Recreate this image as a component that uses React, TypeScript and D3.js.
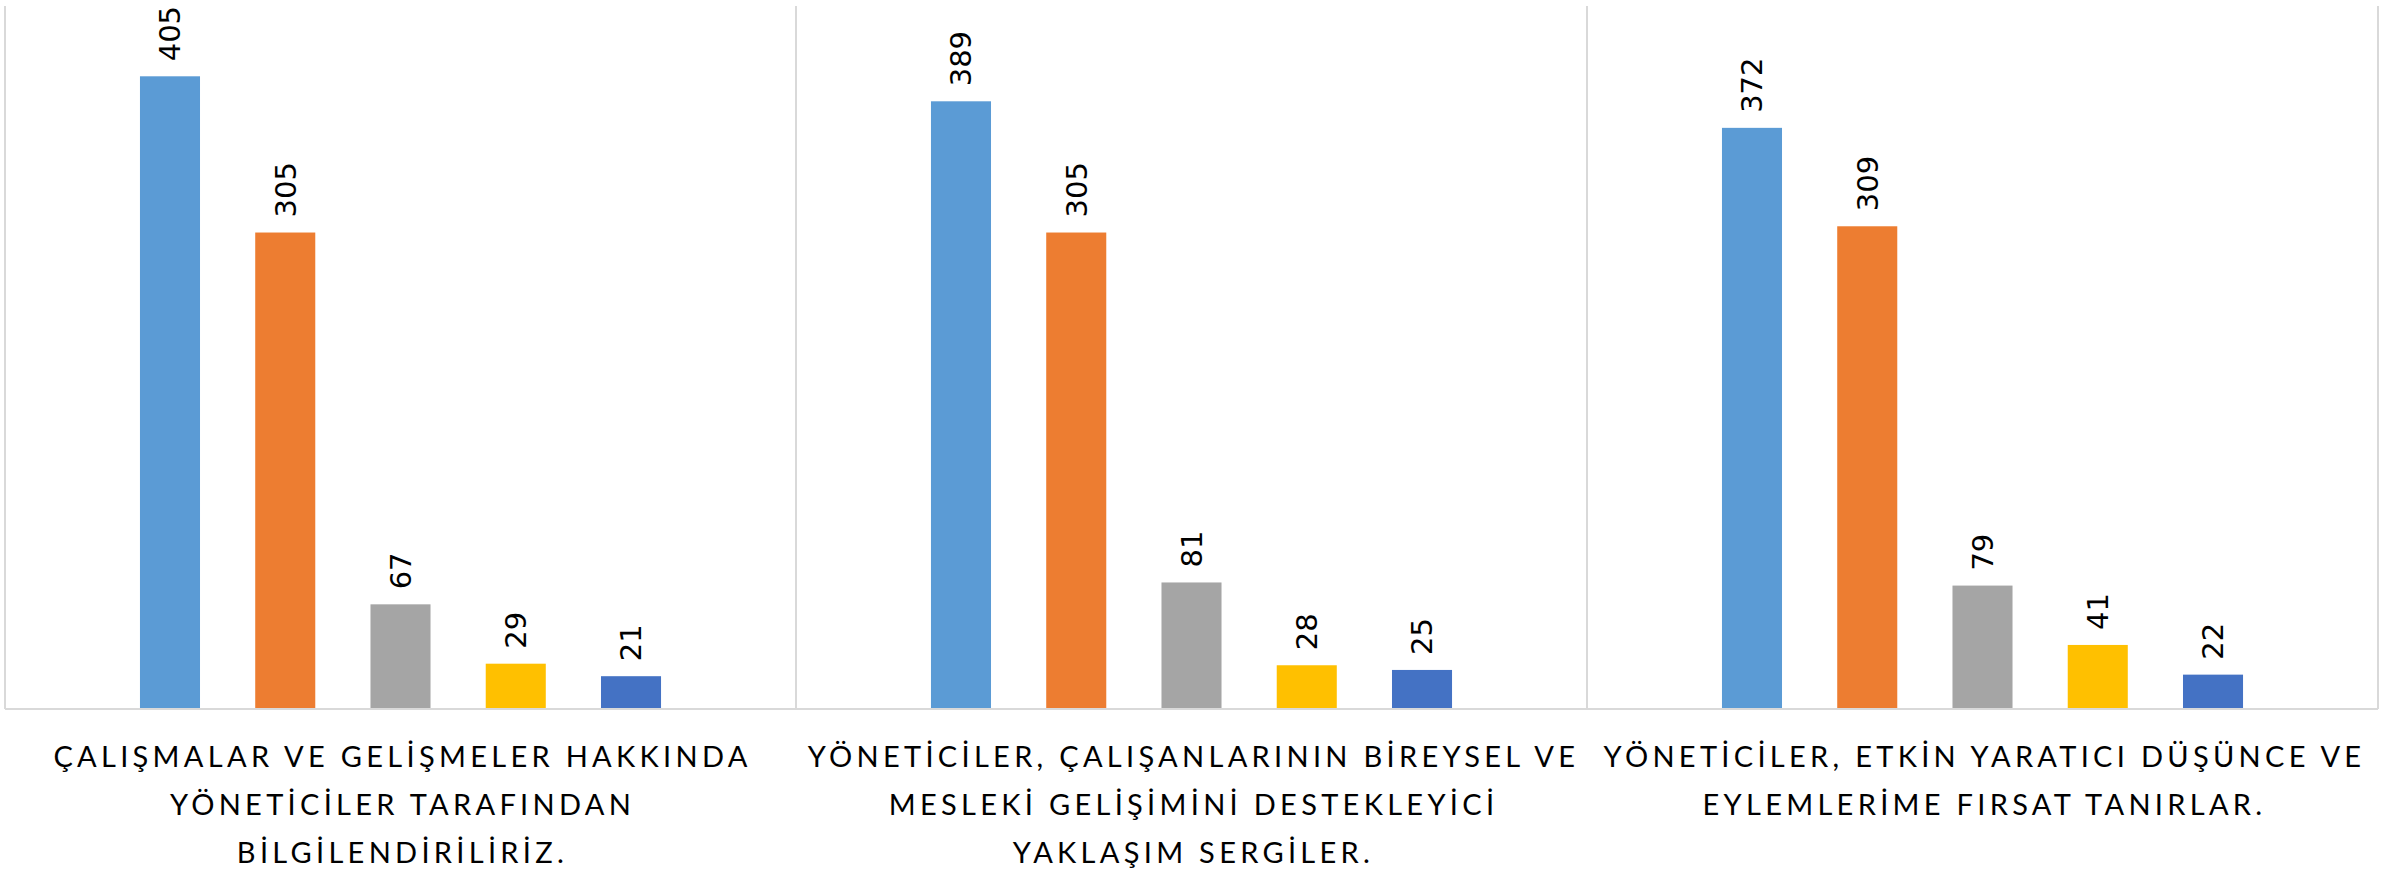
import React from 'react';
import * as d3 from 'd3';

// category labels, already broken into lines as in the original
const categories = [
    ["ÇALIŞMALAR VE GELİŞMELER HAKKINDA", "YÖNETİCİLER TARAFINDAN", "BİLGİLENDİRİLİRİZ."],
    ["YÖNETİCİLER, ÇALIŞANLARININ BİREYSEL VE", "MESLEKİ GELİŞİMİNİ DESTEKLEYİCİ", "YAKLAŞIM SERGİLER."],
    ["YÖNETİCİLER, ETKİN YARATICI DÜŞÜNCE VE", "EYLEMLERİME FIRSAT TANIRLAR."]
];

const seriesNames = ["Seri 1", "Seri 2", "Seri 3", "Seri 4", "Seri 5"];
const series1 = [405, 389, 372];
const series2 = [305, 305, 309];
const series3 = [67, 81, 79];
const series4 = [29, 28, 41];
const series5 = [21, 25, 22];
const seriesColors = ["#5B9BD5", "#ED7D31", "#A5A5A5", "#FFC000", "#4472C4"];

const allSeries = [series1, series2, series3, series4, series5];

const width = 2399;
const height = 869;
const margin = { top: 6, left: 5, right: 21, bottom: 160 };

export default function App() {
    const iwidth = width - margin.left - margin.right;
    const iheight = height - margin.top - margin.bottom;

    const x0 = d3.scaleBand<number>()
        .domain(d3.range(categories.length))
        .range([margin.left, margin.left + iwidth])
        .padding(0);

    const x1 = d3.scaleBand<number>()
        .domain(d3.range(seriesNames.length))
        .range([0, x0.bandwidth()])
        .paddingInner(0.479)
        .paddingOuter(1.171);

    const y = d3.scaleLinear()
        .domain([0, 450])
        .range([margin.top + iheight, margin.top]);

    const baseY = y(0);
    const lineGap = 48;

    return (
        <svg width={width} height={height} style={{ position: 'absolute', left: 0, top: 0, display: 'block', background: '#fff' }}>
            {/* group separators */}
            {d3.range(categories.length + 1).map(i => {
                const xx = i < categories.length ? x0(i)! : margin.left + iwidth;
                return <line key={"sep" + i} x1={xx} x2={xx} y1={margin.top} y2={baseY} stroke="#d9d9d9" strokeWidth={2} />;
            })}

            {allSeries.map((vals, s) => (
                <g key={"s" + s}>
                    {vals.map((v, c) => {
                        const bx = x0(c)! + x1(s)!;
                        const bw = x1.bandwidth();
                        return (
                            <g key={c}>
                                <rect x={bx} y={y(v)} width={bw} height={baseY - y(v)} fill={seriesColors[s]} />
                                <text
                                    transform={`translate(${bx + bw / 2},${y(v) - 15}) rotate(-90)`}
                                    dy="0.36em"
                                    fontFamily="'DejaVu Sans', sans-serif"
                                    fontSize={29}
                                    fill="#000"
                                >{v}</text>
                            </g>
                        );
                    })}
                </g>
            ))}

            <line x1={margin.left} x2={margin.left + iwidth} y1={baseY} y2={baseY} stroke="#d9d9d9" strokeWidth={2} />

            {categories.map((lines, c) => (
                <text
                    key={"cat" + c}
                    x={x0(c)! + x0.bandwidth() / 2}
                    y={767}
                    textAnchor="middle"
                    fontFamily="Lato, sans-serif"
                    fontSize={29}
                    letterSpacing={4.3}
                    fill="#000"
                >
                    {lines.map((ln, i) => (
                        <tspan key={i} x={x0(c)! + x0.bandwidth() / 2 + 2} y={767 + i * lineGap}>{ln}</tspan>
                    ))}
                </text>
            ))}
        </svg>
    );
}
